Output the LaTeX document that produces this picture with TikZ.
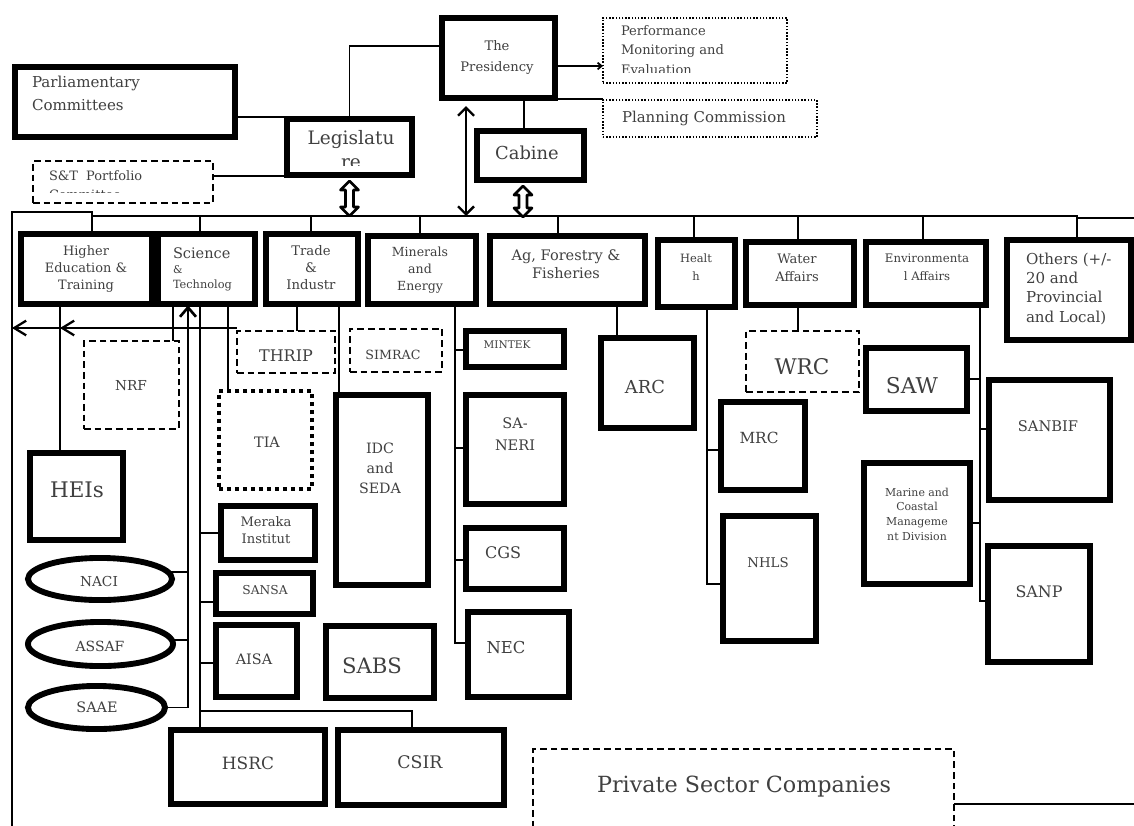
\documentclass[tikz,border=0pt]{standalone}
\usepackage{fontspec}
\setmainfont{DejaVu Serif}
\usetikzlibrary{shapes.geometric,arrows.meta}
\newcommand\Fz[2]{\fontsize{#1pt}{#2pt}\selectfont}
% thick box: outer pixel coords -> path inset
\newcommand\TB[6]{\node[#1,minimum width={(#5-#3-5.9)*0.75pt},minimum height={(#6-#4-5.9)*0.75pt}] (#2) at ({(#3+#5)/2},{(#4+#6)/2}) {};}
\newcommand\LB[6]{\node[#1,minimum width={(#5-#3-1.9)*0.75pt},minimum height={(#6-#4-1.9)*0.75pt}] (#2) at ({(#3+#5)/2},{(#4+#6)/2}) {};}
\newcommand\hollowarr[3]{\draw[line width=2pt,fill=white,line join=round] (#1,#2) -- ++(9,9) -- ++(-5,0) -- ({#1+4},{#3-9}) -- ++(5,0) -- (#1,#3) -- ++(-9,-9) -- ++(5,0) -- ({#1-4},{#2+9}) -- ++(-5,0) -- cycle;}
\tikzset{
 thickbox/.style={draw,rectangle,line width=4.4pt,inner sep=0pt,outer sep=0pt},
 dashbox/.style={draw,rectangle,line width=1.4pt,dash pattern=on 5pt off 3pt,inner sep=0pt,outer sep=0pt},
 dotbox/.style={draw,rectangle,line width=1.1pt,dash pattern=on 1.1pt off 1.3pt,inner sep=0pt,outer sep=0pt},
 bigdot/.style={draw,rectangle,line width=3pt,dash pattern=on 3pt off 3pt,inner sep=0pt,outer sep=0pt},
 oval/.style={ellipse,draw,line width=4.4pt,inner sep=0pt,outer sep=0pt},
 link/.style={line width=1.3pt},
 busline/.style={line width=1.6pt},
 txt/.style={inner sep=0pt,outer sep=0pt,text=black!75},
}
\begin{document}
\begin{tikzpicture}[x=0.75pt,y=-0.75pt]
\clip (0,0) rectangle (1134,825);
\fill[white] (0,0) rectangle (1134,825);
% ---------- boxes ----------
\TB{thickbox}{parl}{12}{64}{238}{140}
\TB{thickbox}{leg}{284}{116}{415}{178}
\TB{thickbox}{pres}{439}{15}{558}{101}
\TB{thickbox}{cab}{474}{128}{587}{183}
\LB{dotbox}{pme}{602}{17}{788}{84}
\LB{dotbox}{plan}{602}{99}{818}{138}
\LB{dashbox}{stp}{32}{160}{214}{204}
\TB{thickbox}{hed}{18}{231}{155}{307}
\TB{thickbox}{sci}{155}{231}{258}{307}
\TB{thickbox}{trade}{263}{231}{361}{307}
\TB{thickbox}{mins}{365}{233}{479}{307}
\TB{thickbox}{agri}{487}{233}{648}{307}
\TB{thickbox}{hlth}{655}{237}{738}{310}
\TB{thickbox}{wat}{743}{239}{857}{308}
\TB{thickbox}{envi}{863}{239}{989}{308}
\TB{thickbox}{oth}{1004}{237}{1134}{343}
\LB{dashbox}{nrf}{83}{340}{180}{430}
\LB{dashbox}{thrip}{236}{330}{336}{374}
\LB{dashbox}{simrac}{349}{328}{443}{373}
\LB{bigdot}{tia}{218}{390}{313}{490}
\TB{thickbox}{heis}{27}{450}{126}{543}
\TB{oval}{naci}{25}{555}{175}{603}
\TB{oval}{assaf}{25}{619}{176}{669}
\TB{oval}{saae}{25}{683}{168}{732}
\TB{thickbox}{meraka}{218}{503}{318}{563}
\TB{thickbox}{sansa}{213}{570}{316}{617}
\TB{thickbox}{aisa}{213}{622}{300}{700}
\TB{thickbox}{sabs}{323}{623}{437}{701}
\TB{thickbox}{idc}{333}{392}{431}{588}
\TB{thickbox}{hsrc}{168}{727}{328}{807}
\TB{thickbox}{csir}{335}{727}{507}{808}
\TB{thickbox}{mintek}{463}{328}{567}{370}
\TB{thickbox}{saneri}{463}{392}{567}{507}
\TB{thickbox}{cgs}{463}{525}{567}{592}
\TB{thickbox}{nec}{465}{609}{572}{700}
\TB{thickbox}{arc}{598}{335}{697}{431}
\TB{thickbox}{mrc}{718}{399}{808}{493}
\TB{thickbox}{nhls}{720}{513}{819}{644}
\LB{dashbox}{wrc}{745}{330}{860}{393}
\TB{thickbox}{saw}{863}{345}{970}{414}
\TB{thickbox}{sanbif}{986}{377}{1113}{503}
\TB{thickbox}{marine}{861}{460}{973}{587}
\TB{thickbox}{sanp}{985}{543}{1093}{665}
\LB{dashbox}{priv}{532}{748}{955}{860}
% ---------- top connectors ----------
\draw[link] (parl.east |- 0,117) -- (leg.west |- 0,117);
\draw[link] (leg.north) |- (pres.west |- 0,46);
\draw[link] (stp.east |- 0,176) -- (leg.west |- 0,176);
\draw[link,-{Straight Barb[length=3pt,width=5pt]}] (pres.east |- 0,66) -- (pme.west |- 0,66);
\draw[link] (pres.east |- 0,99) -- (plan.west |- 0,99);
\draw[link] (pres.south -| 524,0) -- (cab.north -| 524,0);
\coordinate (busP) at (466,216);
\draw[link,shorten <=6pt,{Straight Barb[length=6pt,width=12pt,line width=1.8pt]}-{Straight Barb[length=6pt,width=12pt,line width=1.8pt]}] (pres.south -| 466,0) -- (busP);
% ---------- bus ----------
\draw[busline] (12,830) -- (12,212) -- (92,212) -- (hed.north -| 92,0);
\draw[busline] (92,216) -- (1077,216) -- (1077,218) -- (1140,218);
\foreach \n/\x in {sci/200,trade/311,mins/420,agri/558,hlth/694,wat/798,envi/923,oth/1077}
  \draw[link] (\x,216) -- (\n.north -| \x,0);
\hollowarr{349.5}{181}{216}
\hollowarr{523}{186}{217}
% ---------- left branch ----------
\draw[link,-{Straight Barb[length=9pt,width=11pt,line width=1.7pt]}] (thrip.north west |- 0,328) -- (12,328);
\draw[link,-{Straight Barb[length=9pt,width=11pt,line width=1.7pt]}] (75,328) -- (60,328);
\draw[link] (hed.south -| 60,0) -- (heis.north -| 60,0);
\draw[link] (sci.south -| 173,0) -- (nrf.north -| 173,0);
\draw[link,shorten <=1pt,{Straight Barb[length=7pt,width=12pt,line width=2pt]}-] (sci.south -| 188,0) -- (saae.east -| 188,0) -- (saae.east);
\draw[link] (naci.6) -- (naci.6 -| 188,0);
\draw[link] (assaf.3) -- (assaf.3 -| 188,0);
\draw[link] (sci.south -| 200,0) -- (hsrc.north -| 200,0);
\draw[link] (meraka.west |- 0,533) -- (200,533);
\draw[link] (sansa.west |- 0,602) -- (200,602);
\draw[link] (aisa.west |- 0,663) -- (200,663);
\draw[link] (200,711) -| (csir.north -| 412,0);
\draw[link] (sci.south -| 228,0) -- (tia.north -| 228,0);
\draw[link] (trade.south -| 297,0) -- (thrip.north -| 297,0);
\draw[link] (trade.south -| 339,0) -- (idc.north -| 339,0);
% ---------- minerals ----------
\draw[link] (mins.south -| 455,0) |- (nec.west |- 0,643);
\draw[link] (455,350) -- (mintek.west |- 0,350);
\draw[link] (455,448) -- (saneri.west |- 0,448);
\draw[link] (455,560) -- (cgs.west |- 0,560);
% ---------- others ----------
\draw[link] (agri.south -| 617,0) -- (arc.north -| 617,0);
\draw[link] (hlth.south -| 707,0) |- (nhls.west |- 0,584);
\draw[link] (707,450) -- (mrc.west |- 0,450);
\draw[link] (wat.south -| 798,0) -- (wrc.north -| 798,0);
\draw[link] (envi.south -| 980,0) |- (sanp.west |- 0,601);
\draw[link] (saw.east |- 0,379) -- (980,379);
\draw[link] (980,429) -- (sanbif.west |- 0,429);
\draw[link] (marine.east |- 0,523) -- (980,523);
\draw[busline] (priv.east |- 0,804) -- (1140,804);
% ---------- texts (multi-line nodes: anchor at last baseline) ----------
\node[txt,anchor=base west,align=left,font=\Fz{11.3}{17.25}] (parl-t) at (32,110) {Parliamentary\\Committees};
\begin{scope}
\clip (290,122) rectangle (409,165);
\node[txt,anchor=base,align=center,font=\Fz{13.9}{18}] (leg-t) at (351,168) {Legislatu\\re};
\end{scope}
\node[txt,anchor=base,align=center,font=\Fz{9.85}{15.75}] (pres-t) at (497,71) {The\\Presidency};
\begin{scope}
\clip (604,19) rectangle (786,72);
\node[txt,anchor=base west,align=left,font=\Fz{9.8}{14.3}] (pme-t) at (621,74) {Performance\\Monitoring and\\Evaluation};
\end{scope}
\node[txt,anchor=base west,font=\Fz{11.2}{13}] (plan-t) at (622,122) {Planning Commission};
\node[txt,anchor=base,font=\Fz{13.4}{16}] (cab-t) at (527,159) {Cabine};
\begin{scope}
\clip (34,162) rectangle (212,192);
\node[txt,anchor=base west,align=left,font=\Fz{9.7}{14.25}] (stp-t) at (49,199) {S\&T\ \ Portfolio\\Committee};
\end{scope}
\node[txt,anchor=base,align=center,font=\Fz{9.7}{13}] (hed-t) at (86,289.7) {Higher\\Education \&\\Training};
\node[txt,anchor=base west,align=left,font=\Fz{8.5}{11.25}] (sci-t) at (173,288) {{\Fz{10.9}{11.25}Science}\\{\Fz{8}{11.25}\&}\\Technolog};
\node[txt,anchor=base,align=center,font=\Fz{9.9}{12.75}] (trade-t) at (311,289) {Trade\\\&\\Industr};
\node[txt,anchor=base,align=center,font=\Fz{9.4}{12.4}] (mins-t) at (420,290) {Minerals\\and\\Energy};
\node[txt,anchor=base,align=center,font=\Fz{10.9}{13.5}] (agri-t) at (566,278) {Ag, Forestry \&\\Fisheries};
\node[txt,anchor=base,align=center,font=\Fz{8.6}{13.5}] (hlth-t) at (696,280) {Healt\\h};
\node[txt,anchor=base,align=center,font=\Fz{9.8}{13.5}] (wat-t) at (797,281) {Water\\Affairs};
\node[txt,anchor=base,align=center,font=\Fz{8.8}{13}] (envi-t) at (927,280.3) {Environmenta\\l Affairs};
\node[txt,anchor=base west,align=left,font=\Fz{11.3}{14.6}] (oth-t) at (1026,322.4) {Others (+/-\\20 and\\Provincial\\and Local)};
\node[txt,anchor=base,font=\Fz{10.3}{12}] (nrf-t) at (131,390) {NRF};
\node[txt,anchor=base,font=\Fz{12}{14}] (thrip-t) at (286,361) {THRIP};
\node[txt,anchor=base,font=\Fz{10.8}{13}] (tia-t) at (267,447) {TIA};
\node[txt,anchor=base,font=\Fz{16.1}{19}] (heis-t) at (77,497) {HEIs};
\node[txt,anchor=base,font=\Fz{10.3}{12}] (naci-t) at (99,586) {NACI};
\node[txt,anchor=base,font=\Fz{10.5}{12}] (assaf-t) at (100,651) {ASSAF};
\node[txt,anchor=base,font=\Fz{10.8}{12}] (saae-t) at (97,712) {SAAE};
\node[txt,anchor=base,align=center,font=\Fz{9.8}{12.75}] (meraka-t) at (266,543) {Meraka\\Institut};
\node[txt,anchor=base,font=\Fz{9.2}{11}] (sansa-t) at (265,594) {SANSA};
\node[txt,anchor=base,font=\Fz{10.8}{12}] (aisa-t) at (254,664) {AISA};
\node[txt,anchor=base,font=\Fz{15.9}{18}] (sabs-t) at (372,673) {SABS};
\node[txt,anchor=base,align=center,font=\Fz{10.7}{15}] (idc-t) at (380,493) {IDC\\and\\SEDA};
\node[txt,anchor=base,align=center,font=\Fz{10.9}{17}] (saneri-t) at (515,450.7) {SA-\\NERI};
\node[txt,anchor=base,font=\Fz{12}{14}] (cgs-t) at (503,558) {CGS};
\node[txt,anchor=base,font=\Fz{12.3}{14}] (nec-t) at (506,653) {NEC};
\node[txt,anchor=base,font=\Fz{13}{15}] (csir-t) at (420,768) {CSIR};
\node[txt,anchor=base,font=\Fz{12.7}{15}] (hsrc-t) at (248,769) {HSRC};
\node[txt,anchor=base,font=\Fz{16.7}{19}] (priv-t) at (744,792) {Private Sector Companies};
\node[txt,anchor=base,font=\Fz{13.4}{15}] (arc-t) at (645,393) {ARC};
\node[txt,anchor=base,font=\Fz{7.9}{9}] (mintek-t) at (507,348) {MINTEK};
\node[txt,anchor=base,font=\Fz{9.5}{11}] (simrac-t) at (393,359) {SIMRAC};
\node[txt,anchor=base,font=\Fz{16.2}{19}] (wrc-t) at (802,374) {WRC};
\node[txt,anchor=base,font=\Fz{16.3}{19}] (saw-t) at (912,393) {SAW};
\node[txt,anchor=base,font=\Fz{11.5}{13}] (mrc-t) at (759,443) {MRC};
\node[txt,anchor=base,font=\Fz{10}{12}] (nhls-t) at (768,567) {NHLS};
\node[txt,anchor=base,font=\Fz{11}{13}] (sanbif-t) at (1048,431) {SANBIF};
\node[txt,anchor=base,font=\Fz{11.9}{14}] (sanp-t) at (1039,597) {SANP};
\node[txt,anchor=base,align=center,font=\Fz{8.2}{11}] (marine-t) at (917,540) {Marine and\\Coastal\\Manageme\\nt Division};
\end{tikzpicture}
\end{document}
